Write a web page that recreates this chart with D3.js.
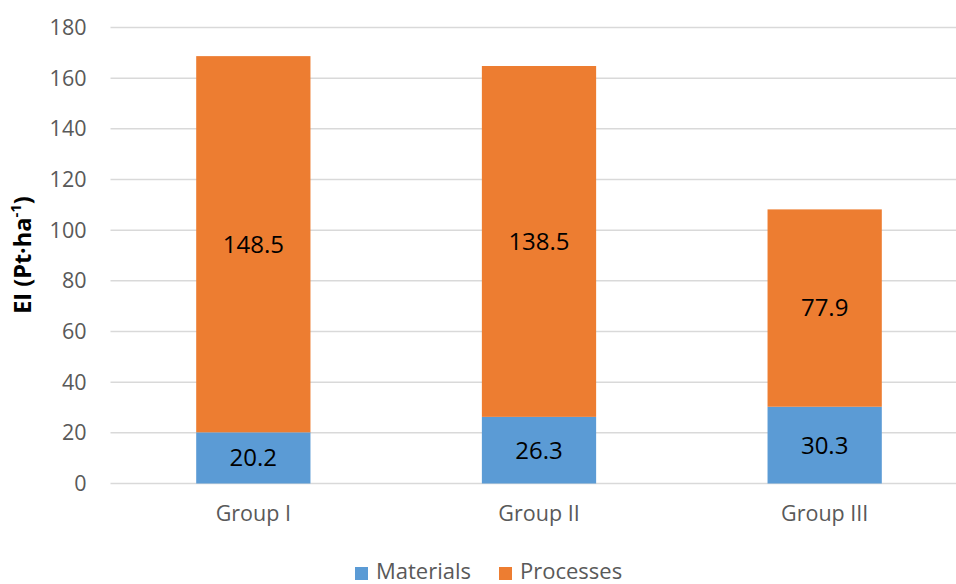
<!DOCTYPE html>
<html>
<head>
<meta charset="utf-8">
<script src="https://cdn.jsdelivr.net/npm/d3@7"></script>
<style>
  html, body { margin: 0; padding: 0; background: #fff; }
  svg { display: block; font-family: "Open Sans", sans-serif; }
</style>
</head>
<body>
<svg id="chart" width="956" height="584"></svg>
<script>
const categories = ["Group I", "Group II", "Group III"];
const seriesNames = ["Materials", "Processes"];
const materials = [20.2, 26.3, 30.3];
const processes = [148.5, 138.5, 77.9];
const yTicks = [0, 20, 40, 60, 80, 100, 120, 140, 160, 180];
const colors = ["#5B9BD5", "#ED7D31"];

const svg = d3.select("#chart");
const x = d3.scaleBand().domain(categories).range([110.5, 967.5]).paddingInner(0.6).paddingOuter(0.3);
const y = d3.scaleLinear().domain([0, 180]).range([483.5, 27.5]);

// gridlines
svg.append("g").selectAll("line").data(yTicks).join("line")
  .attr("x1", 110.5).attr("x2", 967.5)
  .attr("y1", d => y(d)).attr("y2", d => y(d))
  .attr("stroke", "#D9D9D9").attr("stroke-width", 1.5);

// y axis labels
const yAxis = d3.axisLeft(y).tickValues(yTicks).tickSize(0).tickPadding(24);
const yg = svg.append("g").attr("transform", "translate(110.5,0)").call(yAxis);
yg.select(".domain").remove();
yg.selectAll("text").attr("font-size", 21.5).attr("fill", "#595959").attr("font-family", "Open Sans");

// stacked data
const rows = categories.map((c, i) => ({ cat: c, Materials: materials[i], Processes: processes[i] }));
const stack = d3.stack().keys(seriesNames)(rows);

const bw = x.bandwidth();
svg.append("g").selectAll("g").data(stack).join("g")
  .attr("fill", (d, i) => colors[i])
  .selectAll("rect").data(d => d).join("rect")
  .attr("x", d => x(d.data.cat))
  .attr("width", bw)
  .attr("y", d => y(d[1]))
  .attr("height", d => y(d[0]) - y(d[1]));

// data labels
svg.append("g").selectAll("g").data(stack).join("g")
  .selectAll("text").data(d => d.map(v => ({ v, key: d.key }))).join("text")
  .attr("x", d => x(d.v.data.cat) + bw / 2)
  .attr("y", d => (y(d.v[0]) + y(d.v[1])) / 2)
  .attr("dy", "0.35em")
  .attr("text-anchor", "middle")
  .attr("font-size", 24)
  .attr("fill", "#000")
  .text(d => d.v.data[d.key].toFixed(1));

// x axis labels
const xAxis = d3.axisBottom(x).tickSize(0).tickPadding(22);
const xg = svg.append("g").attr("transform", "translate(0,483.5)").call(xAxis);
xg.select(".domain").remove();
xg.selectAll("text").attr("font-size", 21.5).attr("fill", "#595959").attr("font-family", "Open Sans");

// y title
const title = svg.append("text")
  .attr("transform", "translate(31,255) rotate(-90)")
  .attr("text-anchor", "middle")
  .attr("font-size", 23.5)
  .attr("font-weight", "bold")
  .attr("fill", "#000");
title.append("tspan").text("EI (Pt·ha");
title.append("tspan").attr("baseline-shift", "super").attr("font-size", 15).text("-1");
title.append("tspan").text(")");

// legend
const legendItems = [{ name: "Materials", x: 355 }, { name: "Processes", x: 499 }];
const lg = svg.append("g");
legendItems.forEach((it, i) => {
  lg.append("rect").attr("x", it.x).attr("y", 567).attr("width", 13).attr("height", 13).attr("fill", colors[i]);
  lg.append("text").attr("x", it.x + 21).attr("y", 579)
    .attr("font-size", 22).attr("fill", "#595959").text(it.name);
});
</script>
</body>
</html>
